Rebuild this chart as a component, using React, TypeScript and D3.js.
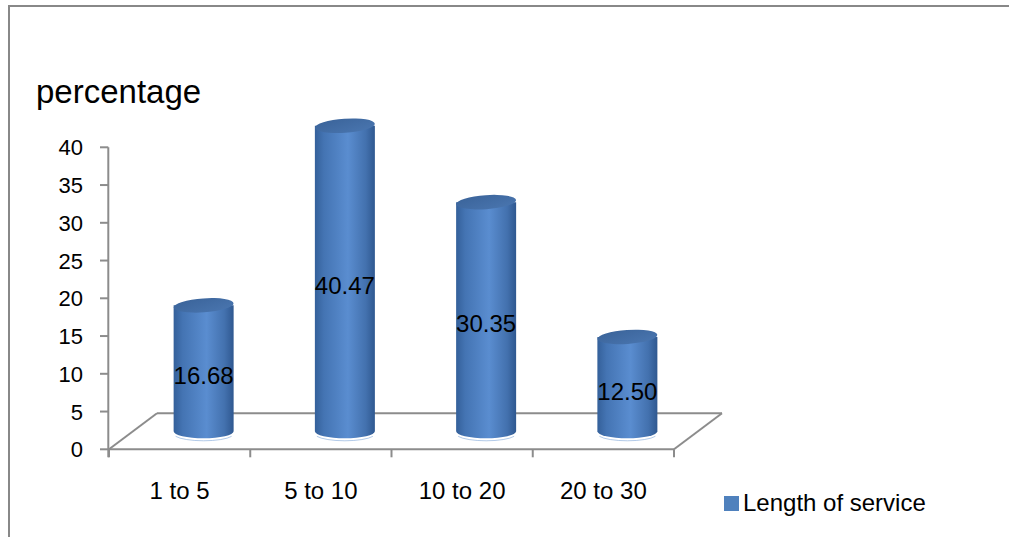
import React from "react";
import * as d3 from "d3";

const categories = ["1 to 5", "5 to 10", "10 to 20", "20 to 30"];
const values = [16.68, 40.47, 30.35, 12.5];
const valueLabels = ["16.68", "40.47", "30.35", "12.50"];
const yTicks = [0, 5, 10, 15, 20, 25, 30, 35, 40];
const seriesName = "Length of service";
const axisTitle = "percentage";

const W = 1009;
const H = 537;
const FONT = "'Liberation Sans', Arial, sans-serif";
const GRID = "#8c8c8c";

export default function App() {
  const frontLeft = 109;
  const frontRight = 674;
  const frontY = 449.3;
  const depthX = 48;
  const depthY = -36;

  const x = d3.scaleBand<string>().domain(categories).range([frontLeft, frontRight]);
  const y = d3.scaleLinear().domain([0, 40]).range([frontY, 147.3]);
  const yMid = (v: number) => y(v) + depthY / 2;

  const rx = 30;
  const ry = 7;

  return (
    <svg width={W} height={H} style={{ position: "absolute", left: 0, top: 0 }}>
      <defs>
        <linearGradient id="body" x1="0" x2="1" y1="0" y2="0">
          <stop offset="0" stopColor="#34609a" />
          <stop offset="0.15" stopColor="#4474b3" />
          <stop offset="0.55" stopColor="#5a8dd0" />
          <stop offset="0.85" stopColor="#4371ae" />
          <stop offset="1" stopColor="#2f5890" />
        </linearGradient>
        <linearGradient id="top" x1="0" x2="1" y1="0" y2="1">
          <stop offset="0" stopColor="#3a6399" />
          <stop offset="1" stopColor="#4a76b0" />
        </linearGradient>
      </defs>
      <rect x={0} y={0} width={W} height={H} fill="#fff" />
      {/* frame */}
      <line x1={9} x2={9} y1={5} y2={H} stroke="#888" strokeWidth={2} />
      <line x1={8} x2={W} y1={6} y2={6} stroke="#888" strokeWidth={2} />

      {/* axis title */}
      <text x={36} y={103} fontFamily={FONT} fontSize={33} fill="#000">
        {axisTitle}
      </text>

      {/* floor */}
      <g stroke={GRID} strokeWidth={2} fill="none">
        <line x1={frontLeft + depthX} x2={frontRight + depthX} y1={frontY + depthY} y2={frontY + depthY} />
        <line x1={frontLeft} x2={frontLeft + depthX} y1={frontY} y2={frontY + depthY} />
        <line x1={frontRight} x2={frontRight + depthX} y1={frontY} y2={frontY + depthY} />
      </g>

      {/* y axis */}
      <g stroke={GRID} strokeWidth={2}>
        <line x1={108.3} x2={108.3} y1={y(40)} y2={frontY + 8} />
        {yTicks.map((t) => (
          <line key={t} x1={100} x2={108.3} y1={y(t)} y2={y(t)} />
        ))}
      </g>
      {yTicks.map((t) => (
        <text
          key={"l" + t}
          x={83}
          y={y(t) + 8}
          textAnchor="end"
          fontFamily={FONT}
          fontSize={22}
          fill="#000"
        >
          {t}
        </text>
      ))}

      {/* bars */}
      {categories.map((c, i) => {
        const cx = (x(c) as number) + x.bandwidth() / 2 + depthX / 2;
        const yb = yMid(0);
        const yt = yMid(values[i]);
        const x0 = cx - rx;
        const x1 = cx + rx;
        const d = `M${x0},${yt} L${x0},${yb} A${rx},${ry} 0 0 0 ${x1},${yb} L${x1},${yt} Z`;
        return (
          <g key={c}>
            <path d={d} fill="url(#body)" />
            <path
              d={`M${x0 + 2},${yb + 5} A${rx},${ry} 0 0 0 ${x1 - 2},${yb + 5}`}
              fill="none"
              stroke="#7fa6d8"
              strokeWidth={1}
              opacity={0.6}
            />
            <ellipse
              cx={cx}
              cy={yt}
              rx={rx}
              ry={ry}
              fill="url(#top)"
              transform={`rotate(-4 ${cx} ${yt})`}
            />
          </g>
        );
      })}

      {/* data labels */}
      {categories.map((c, i) => {
        const cx = (x(c) as number) + x.bandwidth() / 2 + depthX / 2;
        const mid = (yMid(0) + yMid(values[i])) / 2 + 7;
        return (
          <text
            key={"v" + c}
            x={cx}
            y={mid + 8.5}
            textAnchor="middle"
            fontFamily={FONT}
            fontSize={24}
            fill="#000"
          >
            {valueLabels[i]}
          </text>
        );
      })}

      {/* front floor line and category ticks */}
      <g stroke={GRID} strokeWidth={2}>
        <line x1={frontLeft} x2={frontRight} y1={frontY} y2={frontY} />
        {[...categories.map((c) => x(c) as number), frontRight].map((t, i) => (
          <line key={i} x1={t} x2={t} y1={frontY} y2={frontY + 8} />
        ))}
      </g>
      {categories.map((c) => (
        <text
          key={"c" + c}
          x={(x(c) as number) + x.bandwidth() / 2}
          y={499}
          textAnchor="middle"
          fontFamily={FONT}
          fontSize={24}
          fill="#000"
        >
          {c}
        </text>
      ))}

      {/* legend */}
      <rect x={724} y={496} width={15} height={15} fill="#4f81bd" />
      <text x={743} y={511} fontFamily={FONT} fontSize={24} fill="#000">
        {seriesName}
      </text>
    </svg>
  );
}
